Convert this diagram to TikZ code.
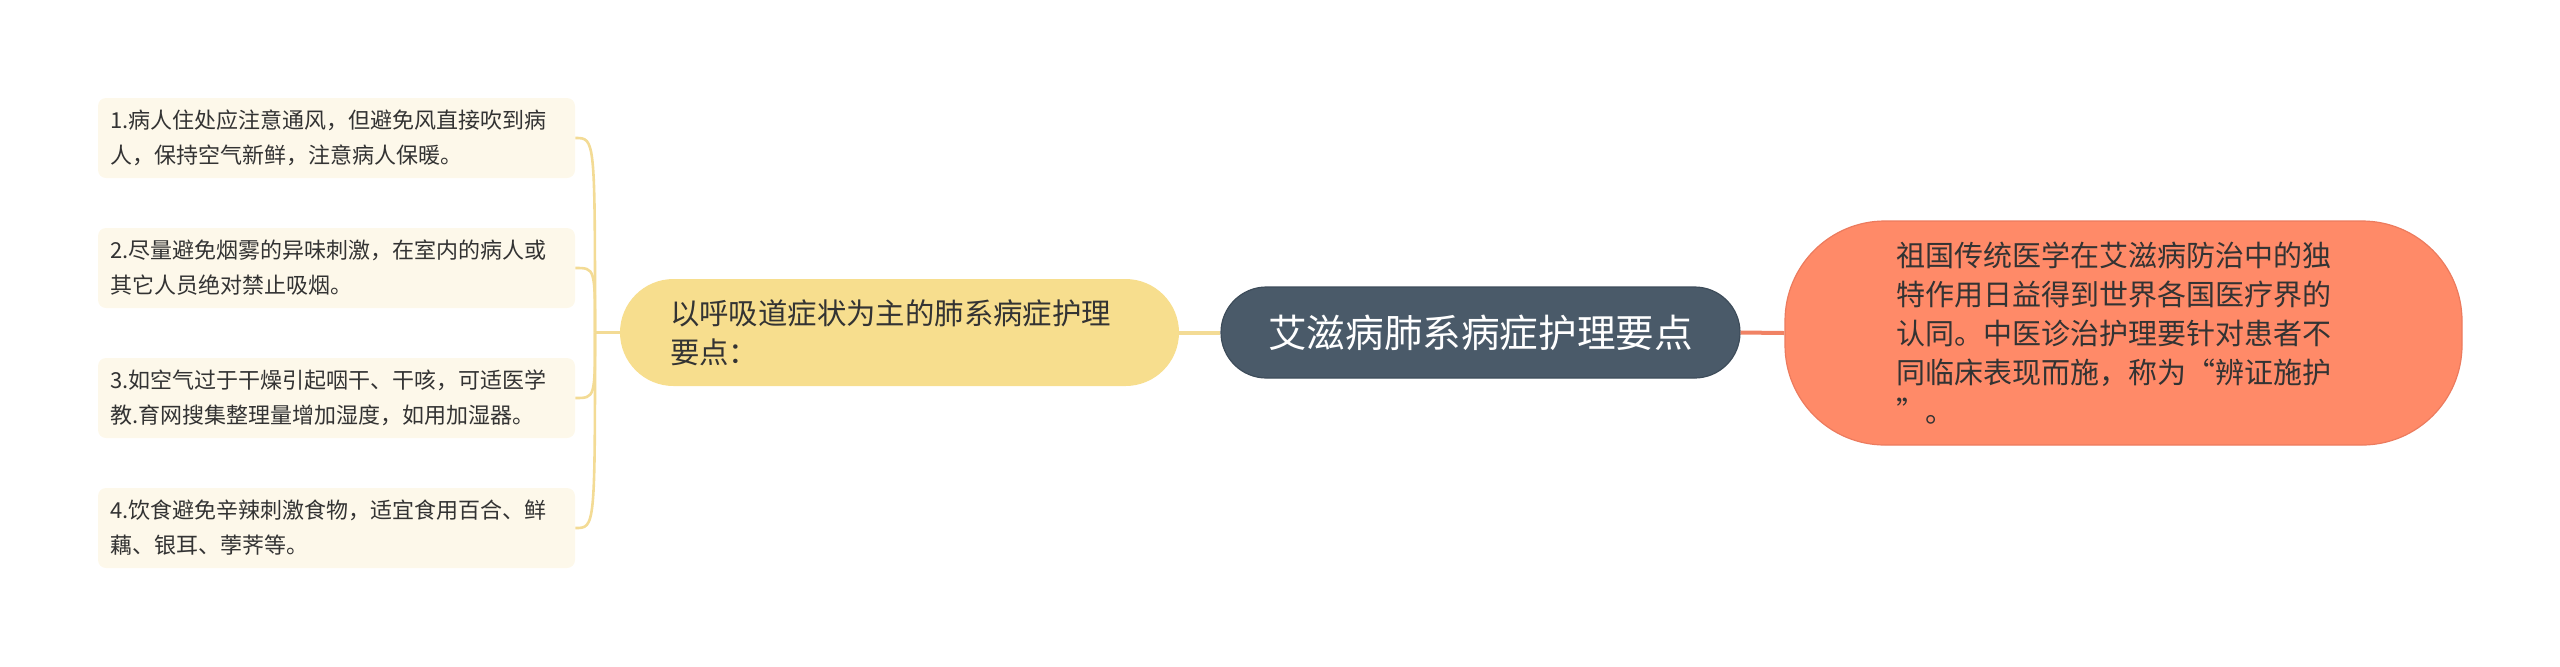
\documentclass[tikz,border=0pt]{standalone}
\usepackage{fontspec}
\setmainfont{Noto Sans CJK SC}
\usepackage{tikz}
\usetikzlibrary{positioning}
\definecolor{leaffill}{HTML}{FDF8EA}
\definecolor{mainfill}{HTML}{F7DE8E}
\definecolor{yellowline}{HTML}{F3DB95}
\definecolor{topicfill}{HTML}{4A5A69}
\definecolor{topicline}{HTML}{3D4C5A}
\definecolor{notefill}{HTML}{FF8A68}
\definecolor{noteline}{HTML}{EC7B5E}
\definecolor{orangeline}{HTML}{F08264}
\definecolor{textdark}{HTML}{333333}
\begin{document}
\begin{tikzpicture}[x=0.5pt, y=-0.5pt,
	leafbox/.style={rounded corners=4pt, fill=leaffill, text=textdark, align=left,
		text width=226.5pt, inner xsep=6pt, minimum width=238.5pt, minimum height=40pt,
		font=\fontsize{11}{17.5}\selectfont},
	leafline/.style={draw=yellowline, line width=1.3pt}]
	\useasboundingbox (0,0) rectangle (2560,666);
	% Draw the nodes
	\node at (1480.5,332.5) [rounded corners=22.75pt, fill=topicfill, draw=topicline, line width=0.6pt,
		minimum width=259.5pt, minimum height=45.5pt, text=white, font=\fontsize{19.3}{23}\selectfont] (1topic) {艾滋病肺系病症护理要点};
	% Level 2
	\node at (899.5,332.5) [rounded corners=26.75pt, fill=mainfill, text=textdark, align=left,
		text width=229.5pt, inner xsep=25pt, minimum height=53.5pt, font=\fontsize{14.7}{19.5}\selectfont] (2breath) {以呼吸道症状为主的肺系病症护理\\要点：};
	\node at (2123.5,333) [rounded corners=50pt, fill=notefill, draw=noteline, line width=0.6pt, text=textdark, align=left,
		text width=227.5pt, inner xsep=55.5pt, minimum height=112pt, font=\fontsize{14.5}{19.5}\selectfont] (2tcm) {祖国传统医学在艾滋病防治中的独\\特作用日益得到世界各国医疗界的\\认同。中医诊治护理要针对患者不\\同临床表现而施，称为“辨证施护\\”。};
	% Level 3
	\node at (336.5,138) [leafbox] (3air) {1.病人住处应注意通风，但避免风直接吹到病\\人，保持空气新鲜，注意病人保暖。};
	\node at (336.5,268) [leafbox] (3smoke) {2.尽量避免烟雾的异味刺激，在室内的病人或\\其它人员绝对禁止吸烟。};
	\node at (336.5,398) [leafbox] (3dry) {3.如空气过于干燥引起咽干、干咳，可适医学\\教.育网搜集整理量增加湿度，如用加湿器。};
	\node at (336.5,528) [leafbox] (3diet) {4.饮食避免辛辣刺激食物，适宜食用百合、鲜\\藕、银耳、荸荠等。};
	\coordinate (3fork) at (595,332.5);
	
	% Draw the paths between nodes
	\draw [draw=yellowline, line width=2pt] (node cs:name=1topic, anchor=west) -- (node cs:name=2breath, anchor=east);
	\draw [draw=orangeline, line width=2pt] (node cs:name=1topic, anchor=east) -- (node cs:name=2tcm, anchor=west);
	\draw [draw=yellowline, line width=1.8pt] (node cs:name=2breath, anchor=west) -- (3fork);
	\draw [leafline] (3fork) .. controls (3fork |- 3air.east) .. (node cs:name=3air, anchor=east);
	\draw [leafline] (3fork) .. controls (3fork |- 3smoke.east) .. (node cs:name=3smoke, anchor=east);
	\draw [leafline] (3fork) .. controls (3fork |- 3dry.east) .. (node cs:name=3dry, anchor=east);
	\draw [leafline] (3fork) .. controls (3fork |- 3diet.east) .. (node cs:name=3diet, anchor=east);
	
\end{tikzpicture}
\end{document}
